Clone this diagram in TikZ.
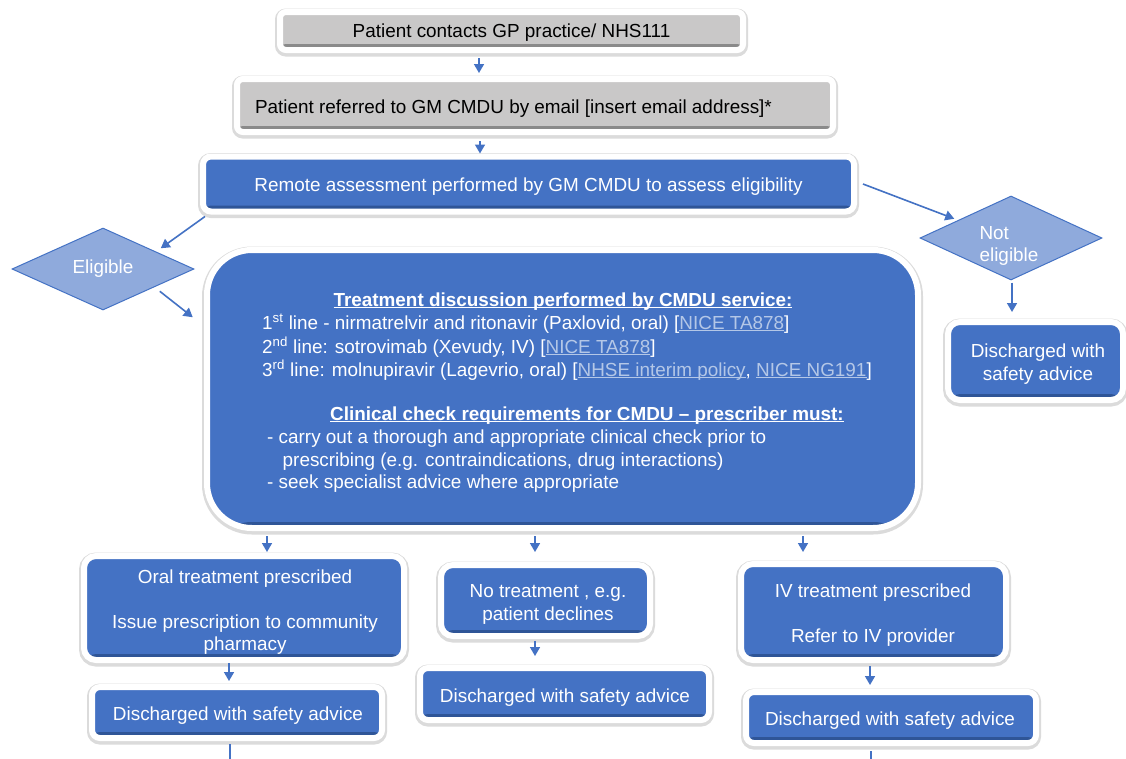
\documentclass[tikz,border=0pt]{standalone}
\usepackage{fontspec}
\setmainfont{Liberation Sans}
\usetikzlibrary{shapes.geometric,arrows.meta,calc}
\definecolor{obl}{HTML}{4472C4}
\definecolor{obld}{HTML}{2F5597}
\definecolor{dia}{HTML}{8FAADC}
\definecolor{lnk}{HTML}{B4C7E7}
\definecolor{gr}{HTML}{C9C8C8}
\definecolor{grd}{HTML}{8A8A8A}
\newcommand\myul[1]{\sbox0{#1}\rlap{\rule[-2.4pt]{\wd0}{1pt}}\usebox0}
\begin{document}
\begin{tikzpicture}[x=1pt,y=-1pt,
  every node/.style={font=\fontsize{18.9}{22.5}\selectfont},
  framed/.style={draw=white, line width=6pt, inner sep=0pt, align=center,
    preaction={draw=black!14, line width=10pt, transform canvas={yshift=-1.5pt}}},
  bluebox/.style={framed, fill=obl, rounded corners=8pt,
    path picture={\fill[obld] ([yshift=6pt]path picture bounding box.south west) rectangle (path picture bounding box.south east);}},
  greybox/.style={framed, fill=gr, rounded corners=6pt,
    path picture={\fill[grd] ([yshift=6pt]path picture bounding box.south west) rectangle (path picture bounding box.south east);}},
  dia/.style={shape=diamond, draw=obl, line width=1pt, fill=dia, inner sep=0pt},
  arr/.style={draw=obl, line width=1.6pt, -{Triangle[length=9pt,width=10pt]}},
  intext/.style={text=white, inner sep=0pt},
  wtext/.style={text=white, inner sep=0pt, align=center},
  ktext/.style={text=black, inner sep=0pt, align=center}
]
\useasboundingbox (0,0) rectangle (1126,758);
\fill[white] (0,0) rectangle (1126,758);

% top grey boxes
\node[greybox, minimum width=463, minimum height=38] (n1) at (511.5,31) {};
\node[ktext] (n1t) at ([yshift=-2pt]n1.center) {Patient contacts GP practice/ NHS111};
\node[greybox, minimum width=596, minimum height=53] (n2) at (535,105.5) {};
\node[ktext] (n2t) at (513.5,108.5) {Patient referred to GM CMDU by email [insert email address]*};

% remote assessment
\node[bluebox, minimum width=651, minimum height=55] (n3) at (528.5,184) {};
\node[wtext] (n3t) at ([yshift=-3pt]n3.center) {Remote assessment performed by GM CMDU to assess eligibility};

% diamonds
\node[dia, minimum width=182, minimum height=82] (elig) at (103,269) {};
\node[wtext] (eligt) at ([yshift=0pt]elig.center) {Eligible};
\node[dia, minimum width=182, minimum height=84] (ne) at (1011,238) {};
\node[wtext, align=left] (net) at (1009,246) {Not\\eligible};

% discharged right
\node[bluebox, rounded corners=12pt, minimum width=175, minimum height=78] (dr) at (1035.5,361) {};
\node[wtext] (drt) at (1038,364) {Discharged with\\safety advice};

% big box
\node[bluebox, rounded corners=45pt, minimum width=711, minimum height=278] (big) at (562.5,389) {};
\node[intext, anchor=base] (h1) at (563,306) {\myul{\textbf{Treatment discussion performed by CMDU service:}}};
\node[intext, anchor=base west] (l1) at (262,329) {1\textsuperscript{st} line - nirmatrelvir and ritonavir (Paxlovid, oral) [\textcolor{lnk}{\myul{NICE TA878}}]};
\node[intext, anchor=base west] (l2) at (262,353) {2\textsuperscript{nd} line: sotrovimab (Xevudy, IV) [\textcolor{lnk}{\myul{NICE TA878}}]};
\node[intext, anchor=base west] (l3) at (262,376) {3\textsuperscript{rd} line: molnupiravir (Lagevrio, oral) [\textcolor{lnk}{\myul{NHSE interim policy}}, \textcolor{lnk}{\myul{NICE NG191}}]};
\node[intext, anchor=base] (h2) at (587,420) {\myul{\textbf{Clinical check requirements for CMDU -- prescriber must:}}};
\node[intext, anchor=base west] (c1) at (267,443) {- carry out a thorough and appropriate clinical check prior to};
\node[intext, anchor=base west] (c2) at (282.5,466) {prescribing (e.g. contraindications, drug interactions)};
\node[intext, anchor=base west] (c3) at (267,488) {- seek specialist advice where appropriate};

% bottom boxes
\node[bluebox, rounded corners=12pt, minimum width=320, minimum height=104] (oral) at (244,608) {};
\node[wtext] (oralt) at (245,612) {Oral treatment prescribed\\[22.5pt]Issue prescription to community\\pharmacy};
\node[bluebox, rounded corners=12pt, minimum width=209, minimum height=71] (notr) at (545.5,600.5) {};
\node[wtext] (notrt) at (548,604.5) {No treatment , e.g.\\patient declines};
\node[bluebox, rounded corners=12pt, minimum width=265, minimum height=96] (iv) at (873.5,612) {};
\node[wtext] (ivt) at (873,615) {IV treatment prescribed\\[22.5pt]Refer to IV provider};
\node[bluebox, minimum width=290, minimum height=51] (d1) at (237,712.5) {};
\node[wtext] (d1t) at (238,715.5) {Discharged with safety advice};
\node[bluebox, minimum width=289, minimum height=52] (d2) at (564.5,694) {};
\node[wtext] (d2t) at (565,698) {Discharged with safety advice};
\node[bluebox, minimum width=290, minimum height=51] (d3) at (891,717.5) {};
\node[wtext] (d3t) at (890,720.5) {Discharged with safety advice};

% connectors
\draw[arr] ([xshift=-32.5pt,yshift=-5pt]n1.south) -- ([xshift=-56pt,yshift=3pt]n2.north);
\draw[arr] ([xshift=-55pt,yshift=-6pt]n2.south) -- ([xshift=-48.5pt]n3.north);
\draw[arr] ([xshift=5pt,yshift=-2pt]n3.south west) -- ([xshift=12pt]elig.north east);
\draw[arr] ([xshift=11pt,yshift=-1.5pt]elig.south east) -- ++(33,26);
\draw[arr] ([xshift=6pt]n3.east) -- ([xshift=-11pt,yshift=-2pt]ne.north west);
\draw[arr] ([xshift=1pt,yshift=-2pt]ne.south) -- ([xshift=-23.5pt,yshift=7pt]dr.north);
\draw[arr] ([xshift=-295.5pt,yshift=-5pt]big.south) -- ([xshift=23pt,yshift=1pt]oral.north);
\draw[arr] ([xshift=-27.5pt,yshift=-5pt]big.south) -- ([xshift=-10.5pt,yshift=10pt]notr.north);
\draw[arr] ([xshift=240.5pt,yshift=-5pt]big.south) -- ([xshift=-70.5pt,yshift=9pt]iv.north);
\draw[arr] ([xshift=-15pt]oral.south) -- ([xshift=-8pt,yshift=3pt]d1.north);
\draw[arr] ([xshift=-10.5pt,yshift=-2pt]notr.south) -- ([xshift=-29.5pt,yshift=9pt]d2.north);
\draw[arr] ([xshift=-3.5pt,yshift=-3pt]iv.south) -- ([xshift=-21pt,yshift=4pt]d3.north);
\draw[arr] ([xshift=-7pt,yshift=-3pt]d1.south) -- ++(0,24);
\draw[arr] ([xshift=-20pt,yshift=-5pt]d3.south) -- ++(0,26);
\end{tikzpicture}
\end{document}
